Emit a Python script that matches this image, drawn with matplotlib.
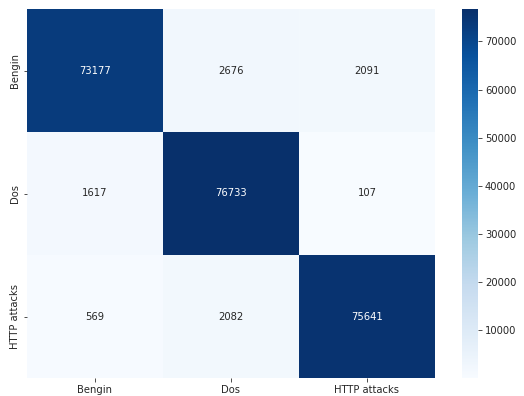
import matplotlib
matplotlib.use("Agg")
import matplotlib.pyplot as plt
import numpy as np
import seaborn as sns

labels = ["Bengin", "Dos", "HTTP attacks"]
row_bengin = [73177, 2676, 2091]
row_dos = [1617, 76733, 107]
row_http = [569, 2082, 75641]
cbar_ticks = [10000, 20000, 30000, 40000, 50000, 60000, 70000]

cm = np.array([row_bengin, row_dos, row_http])

plt.rcParams['font.family'] = ['DejaVu Sans']
plt.rcParams['text.color'] = '#262626'
plt.rcParams['axes.labelcolor'] = '#262626'
plt.rcParams['xtick.color'] = '#262626'
plt.rcParams['ytick.color'] = '#262626'

fig = plt.figure(figsize=(524/72, 396/72), dpi=72)
ax = fig.add_axes([27/524, 1-378/396, (435-27)/524, (378-9)/396])
cax = fig.add_axes([462/524, 1-378/396, 16/524, (378-9)/396])

sns.heatmap(cm, annot=True, fmt='d', cmap='Blues', ax=ax, cbar_ax=cax,
            xticklabels=labels, yticklabels=labels, annot_kws={'fontsize': 10})
ax.tick_params(axis='both', labelsize=10, length=3.5, color='#262626')
plt.setp(ax.get_yticklabels(), rotation=90, va='center')
cax.set_yticks(cbar_ticks)
cax.tick_params(labelsize=10, length=3.5)
for s in cax.spines.values():
    s.set_visible(False)

fig.savefig('out.png', dpi=72)
